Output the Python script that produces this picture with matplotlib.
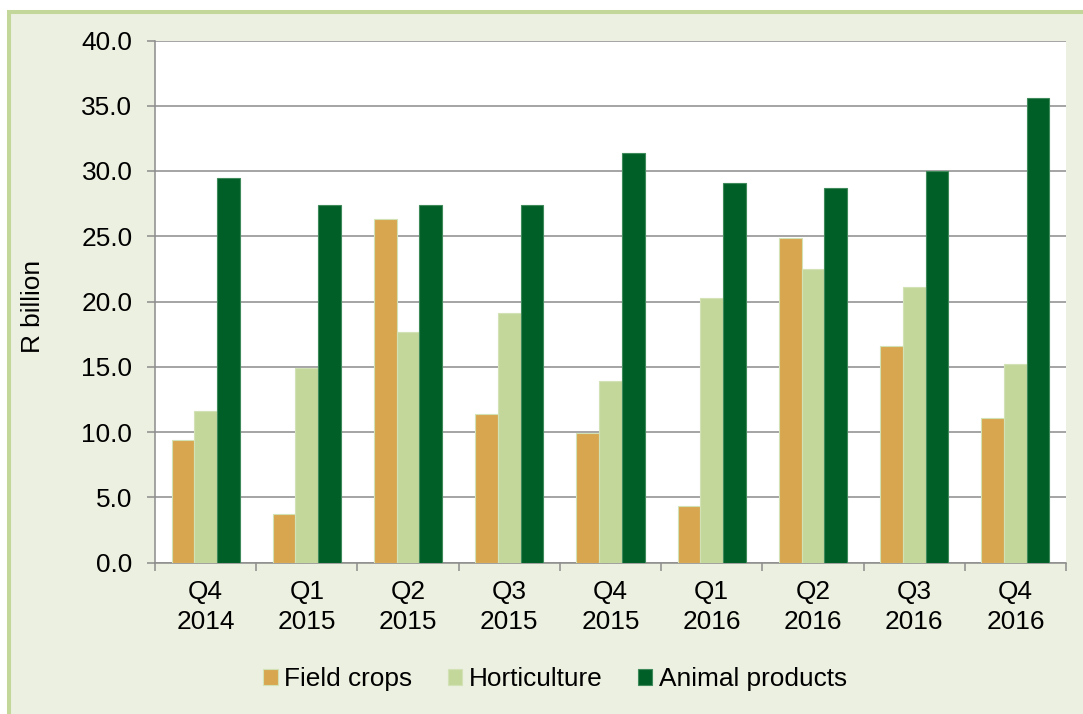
import matplotlib
matplotlib.use("Agg")
import matplotlib.pyplot as plt
from matplotlib.patches import Rectangle
import numpy as np

categories = ["Q4\n2014", "Q1\n2015", "Q2\n2015", "Q3\n2015", "Q4\n2015",
              "Q1\n2016", "Q2\n2016", "Q3\n2016", "Q4\n2016"]
field_crops = [9.4, 3.7, 26.3, 11.4, 9.9, 4.3, 24.9, 16.6, 11.1]
horticulture = [11.6, 14.9, 17.7, 19.1, 13.9, 20.3, 22.5, 21.1, 15.2]
animal_products = [29.5, 27.4, 27.4, 27.4, 31.4, 29.1, 28.7, 30.0, 35.6]
series_names = ["Field crops", "Horticulture", "Animal products"]
y_ticks = [0, 5, 10, 15, 20, 25, 30, 35, 40]

plt.rcParams['font.family'] = ['Liberation Sans', 'DejaVu Sans']
FS = 18.9
BG = "#ECF0E0"
GRID = "#8C8C8C"

W, H = 1083, 714
fig = plt.figure(figsize=(W / 100, H / 100), dpi=100)
fig.patch.set_facecolor("white")
border = Rectangle((9 / W, -0.05), 1.2, 1 - 12 / H + 0.05, transform=fig.transFigure,
                   facecolor=BG, edgecolor="#C4D79B", linewidth=2.9, zorder=-10)
fig.patches.append(border)

ax = fig.add_axes([155 / W, 1 - 562.5 / H, (1066 - 155) / W, (562.5 - 40.5) / H])
ax.set_facecolor("white")

x = np.arange(len(categories))
bw = 0.224
cols = ["#D8A64F", "#C4D79B", "#005F27"]
edges = ["#D3E2B5", "#D3E2B5", "#3F8A5A"]
data = [field_crops, horticulture, animal_products]
for i, (vals, c, e, name) in enumerate(zip(data, cols, edges, series_names)):
    ax.bar(x + (i - 1) * bw, vals, width=bw, color=c, edgecolor=e,
           linewidth=0.8, label=name, zorder=3)

ax.set_xlim(-0.5, len(categories) - 0.5)
ax.set_ylim(0, 40)
ax.set_yticks(y_ticks)
ax.set_yticklabels([f"{v:.1f}" for v in y_ticks], fontsize=FS)
ax.yaxis.grid(True, color=GRID, linewidth=1.1, zorder=0)
ax.set_axisbelow(True)

ax.set_xticks(x)
ax.set_xticklabels(categories, fontsize=FS, linespacing=1.32)
ax.set_xticks(np.arange(-0.5, len(categories), 1.0), minor=True)
ax.tick_params(axis='x', which='major', length=0, pad=12.5)
ax.tick_params(axis='x', which='minor', length=5.8, width=1.1, color=GRID, direction='out')
ax.tick_params(axis='y', which='major', length=5.8, width=1.1, color=GRID, pad=10.5)

for s in ["top", "right"]:
    ax.spines[s].set_visible(False)
for s in ["left", "bottom"]:
    ax.spines[s].set_color(GRID)
    ax.spines[s].set_linewidth(1.1)

fig.text(33 / W, 1 - 306 / H, "R billion", rotation=90, fontsize=FS,
         ha="center", va="center")

handles, labels = ax.get_legend_handles_labels()
leg = fig.legend(handles, labels, loc="center", bbox_to_anchor=(555 / W, 1 - 679 / H),
                 ncol=3, frameon=False, fontsize=FS, handlelength=0.55, handleheight=0.55,
                 handletextpad=0.25, columnspacing=1.35, borderaxespad=0)

fig.savefig("out.png", dpi=100, facecolor=fig.get_facecolor())
